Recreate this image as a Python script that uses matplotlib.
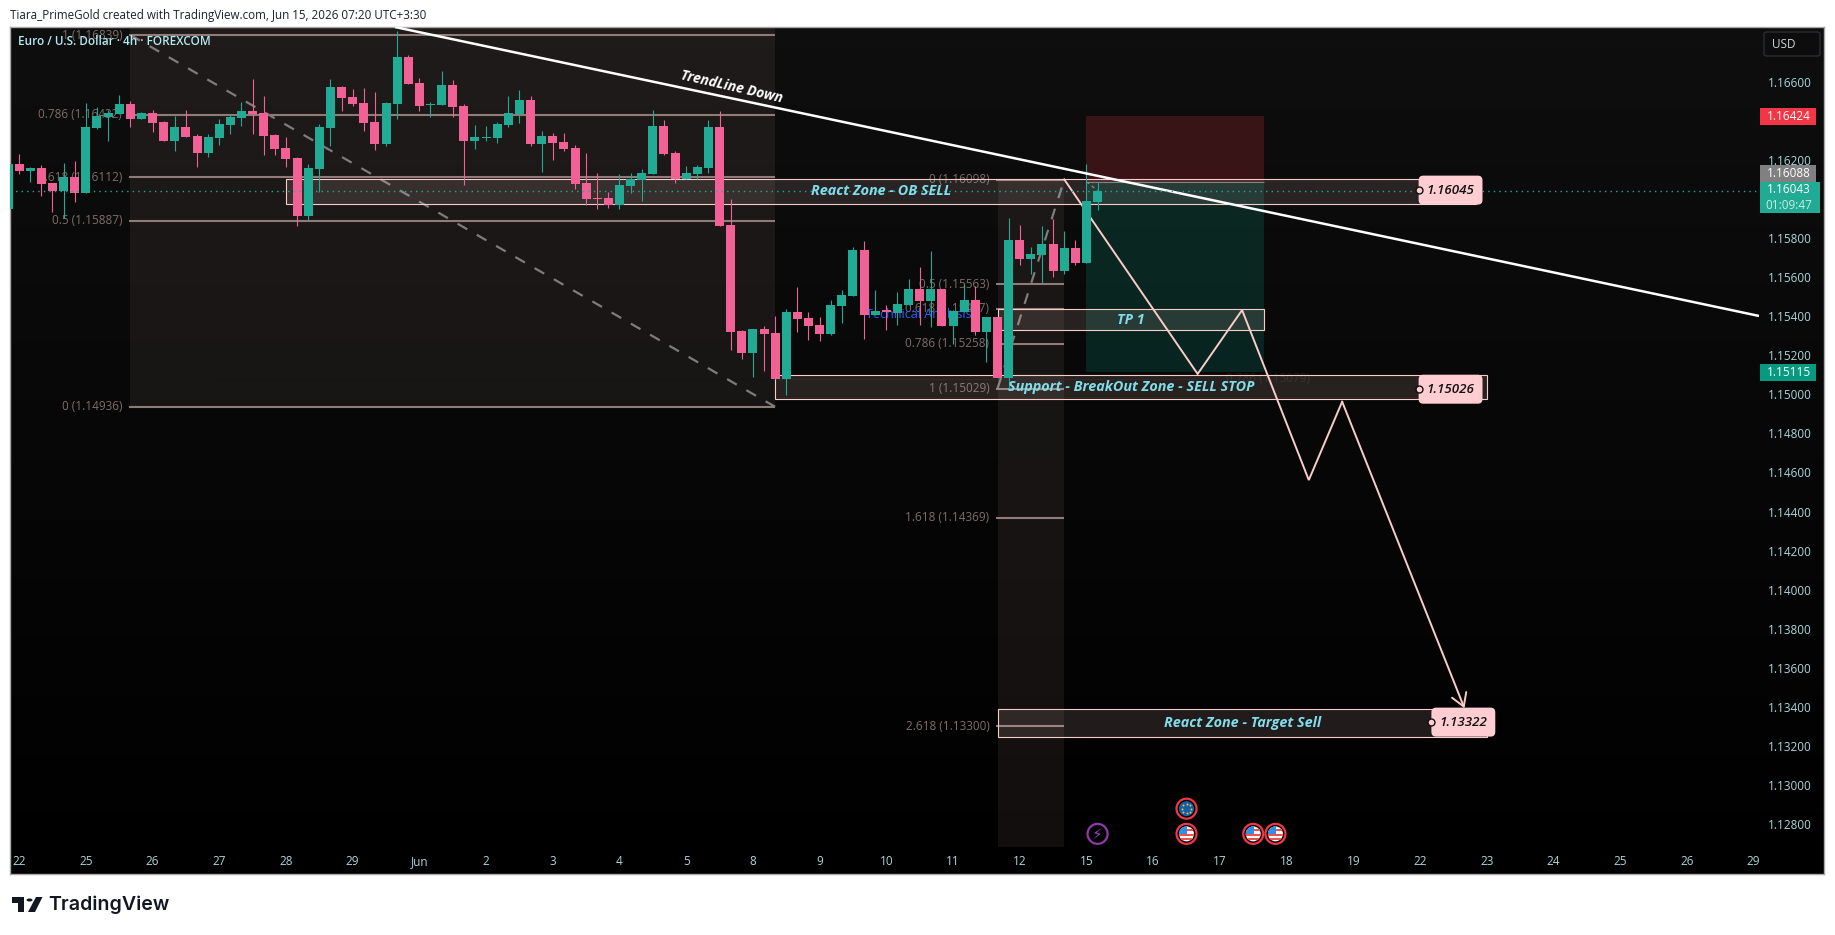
import numpy as np
import matplotlib
matplotlib.use("Agg")
import matplotlib.pyplot as plt
from matplotlib.patches import Rectangle, Circle, Polygon, FancyBboxPatch
from matplotlib.transforms import IdentityTransform

W, H = 1835, 935

# 4h candles, left to right
opens = [1.15950, 1.16179, 1.16143, 1.16158, 1.16081, 1.16040, 1.16112, 1.16030, 1.16363, 1.16419,
         1.16435, 1.16486, 1.16409, 1.16440, 1.16394, 1.16296, 1.16368, 1.16322, 1.16235, 1.16312,
         1.16378, 1.16414, 1.16450, 1.16440, 1.16327, 1.16261, 1.16209, 1.15913, 1.16154, 1.16363,
         1.16573, 1.16522, 1.16491, 1.16394, 1.16281, 1.16486, 1.16727, 1.16594, 1.16481, 1.16481,
         1.16583, 1.16476, 1.16297, 1.16312, 1.16312, 1.16379, 1.16435, 1.16507, 1.16281, 1.16322,
         1.16292, 1.16261, 1.16082, 1.16005, 1.16004, 1.15969, 1.16066, 1.16097, 1.16127, 1.16373,
         1.16235, 1.16102, 1.16127, 1.16158, 1.16368, 1.15866, 1.15324, 1.15211, 1.15334, 1.15313,
         1.15078, 1.15421, 1.15390, 1.15354, 1.15308, 1.15452, 1.15503, 1.15738, 1.15406, 1.15432,
         1.15416, 1.15457, 1.15539, 1.15478, 1.15539, 1.15350, 1.15423, 1.15483, 1.15319, 1.15396,
         1.15085, 1.15789, 1.15692, 1.15713, 1.15769, 1.15631, 1.15748, 1.15672, 1.15984]
highs = [1.16179, 1.16230, 1.16163, 1.16174, 1.16081, 1.16184, 1.16194, 1.16491, 1.16470, 1.16455,
         1.16532, 1.16501, 1.16445, 1.16455, 1.16399, 1.16424, 1.16455, 1.16332, 1.16332, 1.16409,
         1.16429, 1.16496, 1.16614, 1.16527, 1.16332, 1.16317, 1.16214, 1.16179, 1.16384, 1.16614,
         1.16578, 1.16563, 1.16568, 1.16548, 1.16496, 1.16860, 1.16737, 1.16619, 1.16496, 1.16655,
         1.16609, 1.16486, 1.16379, 1.16374, 1.16394, 1.16527, 1.16558, 1.16527, 1.16348, 1.16338,
         1.16338, 1.16276, 1.16235, 1.16133, 1.16035, 1.16127, 1.16132, 1.16153, 1.16455, 1.16404,
         1.16245, 1.16168, 1.16173, 1.16404, 1.16450, 1.15999, 1.15329, 1.15334, 1.15349, 1.15400,
         1.15436, 1.15549, 1.15421, 1.15395, 1.15482, 1.15533, 1.15754, 1.15784, 1.15534, 1.15457,
         1.15524, 1.15590, 1.15652, 1.15734, 1.15539, 1.15432, 1.15565, 1.15554, 1.15396, 1.15396,
         1.15902, 1.15866, 1.15754, 1.15861, 1.15897, 1.15835, 1.15789, 1.16178, 1.16086]
lows = [1.15950, 1.16127, 1.16087, 1.16015, 1.15933, 1.15902, 1.15984, 1.16030, 1.16358, 1.16296,
        1.16435, 1.16368, 1.16409, 1.16342, 1.16296, 1.16245, 1.16317, 1.16163, 1.16214, 1.16276,
        1.16332, 1.16373, 1.16332, 1.16225, 1.16225, 1.16163, 1.15861, 1.15892, 1.16036, 1.16271,
        1.16450, 1.16476, 1.16348, 1.16251, 1.16271, 1.16409, 1.16589, 1.16450, 1.16420, 1.16481,
        1.16420, 1.16072, 1.16256, 1.16297, 1.16287, 1.16368, 1.16389, 1.16271, 1.16138, 1.16200,
        1.16246, 1.16051, 1.15969, 1.15949, 1.15953, 1.15948, 1.16030, 1.15989, 1.16127, 1.16224,
        1.16081, 1.16102, 1.16102, 1.16132, 1.15861, 1.15226, 1.15180, 1.15088, 1.15119, 1.15078,
        1.14996, 1.15318, 1.15278, 1.15272, 1.15303, 1.15365, 1.15503, 1.15283, 1.15406, 1.15329,
        1.15355, 1.15457, 1.15355, 1.15344, 1.15350, 1.15257, 1.15423, 1.15304, 1.15165, 1.15083,
        1.15022, 1.15661, 1.15615, 1.15569, 1.15600, 1.15615, 1.15661, 1.15672, 1.15943]
closes = [1.16179, 1.16143, 1.16158, 1.16076, 1.16040, 1.16112, 1.16030, 1.16368, 1.16424, 1.16440,
          1.16486, 1.16409, 1.16438, 1.16389, 1.16296, 1.16368, 1.16317, 1.16235, 1.16317, 1.16383,
          1.16419, 1.16450, 1.16435, 1.16322, 1.16255, 1.16204, 1.15912, 1.16159, 1.16368, 1.16573,
          1.16517, 1.16486, 1.16389, 1.16281, 1.16491, 1.16727, 1.16589, 1.16476, 1.16486, 1.16583,
          1.16471, 1.16297, 1.16317, 1.16317, 1.16384, 1.16440, 1.16507, 1.16281, 1.16322, 1.16287,
          1.16256, 1.16077, 1.16000, 1.16000, 1.15969, 1.16071, 1.16102, 1.16132, 1.16373, 1.16230,
          1.16102, 1.16132, 1.16163, 1.16368, 1.15861, 1.15318, 1.15211, 1.15334, 1.15308, 1.15078,
          1.15421, 1.15385, 1.15349, 1.15308, 1.15457, 1.15508, 1.15738, 1.15406, 1.15426, 1.15423,
          1.15462, 1.15539, 1.15478, 1.15539, 1.15350, 1.15426, 1.15483, 1.15319, 1.15396, 1.15083,
          1.15789, 1.15692, 1.15718, 1.15769, 1.15631, 1.15748, 1.15672, 1.15989, 1.16043]

date_labels = ["22", "25", "26", "27", "28", "29", "Jun", "2", "3", "4", "5", "8", "9", "10", "11",
               "12", "15", "16", "17", "18", "19", "22", "23", "24", "25", "26", "29"]
date_bars = list(range(1, 158, 6))
price_ticks = [1.166, 1.162, 1.158, 1.156, 1.154, 1.152, 1.150, 1.148, 1.146, 1.144, 1.142, 1.140,
               1.138, 1.136, 1.134, 1.132, 1.130, 1.128]

# fib retracements
fib1_levels = ["1", "0.786", "0.618", "0.5", "0"]
fib1_prices = [1.16839, 1.16432, 1.16112, 1.15887, 1.14936]
fib1_bars = [11, 69]
fib2_levels = ["0", "0.5", "0.618", "0.786", "1", "1.618", "2.618"]
fib2_prices = [1.16098, 1.15563, 1.15437, 1.15258, 1.15029, 1.14369, 1.13300]
fib2_bars = [89, 95]

# zones
zone_names = ["React Zone - OB SELL", "TP 1", "Support - BreakOut Zone - SELL STOP", "React Zone - Target Sell"]
zone_start = [25.0, 89.0, 69.0, 89.0]
zone_end = [132.0, 113.0, 133.0, 133.0]
zone_top = [1.16104, 1.15438, 1.15097, 1.13388]
zone_bottom = [1.15972, 1.15327, 1.14974, 1.13247]

tag_prices = [1.16045, 1.15026, 1.13322]
tag_bars = [129.75, 129.75, 130.9]
handle_bars = [126.9, 126.9, 128.0]

# short position
pos_bars = [97, 113]
pos_stop, pos_entry, pos_target = 1.16424, 1.16088, 1.15115

# projected path
path_bars = [95, 107, 111, 117, 120, 131]
path_prices = [1.16100, 1.15104, 1.15431, 1.14561, 1.14962, 1.13393]

trend_bars = [34.8, 157.49]
trend_prices = [1.16880, 1.15401]

event_bars = [106, 106, 112, 114]
event_prices = [1.12879, 1.12750, 1.12750, 1.12750]
event_kinds = ["eu", "us", "us", "us"]
news_bar, news_price = 98, 1.12750

last_price = 1.16043

TEAL = "#22ab94"
PINK = "#f26196"
ZONE = "#f8cdc9"
FIB = "#a1887f"
FIBLINE = "#917b78"
FIBTXT = "#7d6e6b"
CYAN = "#80deea"
AXTXT = "#a8d8dc"
FONT = "Open Sans"
plt.rcParams["font.family"] = [FONT, "DejaVu Sans"]


def fx(px):
    return px / W


def fy(py):
    return 1 - py / H


fig = plt.figure(figsize=(W / 100, H / 100), dpi=100, facecolor="white")

# black panel with a soft gradient
bg = fig.add_axes([fx(10), fy(874), fx(1824 - 10), (874 - 27) / H])
bg.imshow(np.linspace(0.056, 0.0, 256).reshape(-1, 1), cmap="gray", vmin=0, vmax=1, aspect="auto")
bg.set_xticks([])
bg.set_yticks([])
for s in bg.spines.values():
    s.set_color("#a8a8a8")
    s.set_linewidth(1.0)

ax = fig.add_axes([fx(10), fy(847), fx(1759 - 10), (847 - 27) / H])
ax.patch.set_alpha(0)
bar_w = 11.118
ax.set_xlim((10 - 8) / bar_w, (1759 - 8) / bar_w)
ax.set_ylim(1.16600 - (847 - 81.7) / 19537, 1.16600 + (81.7 - 27) / 19537)
for s in ax.spines.values():
    s.set_visible(False)

ax.set_xticks(date_bars, date_labels)
ax.yaxis.tick_right()
ax.set_yticks(price_ticks, [f"{p:.5f}" for p in price_ticks])
ax.tick_params(axis="x", length=0, pad=5.5, labelsize=8.5, labelcolor=AXTXT)
ax.tick_params(axis="y", length=0, pad=6.5, labelsize=8.5, labelcolor=AXTXT)

# fib 1
ax.add_patch(Rectangle((fib1_bars[0], fib1_prices[-1]), fib1_bars[1] - fib1_bars[0],
                       ax.get_ylim()[1] - fib1_prices[-1], fc=FIB, alpha=0.11, lw=0, zorder=1))
ax.hlines(fib1_prices, fib1_bars[0] - 0.12, fib1_bars[1], color=FIBLINE, lw=1.5, zorder=1.2)
for lv, p in zip(fib1_levels, fib1_prices):
    ax.text(fib1_bars[0] - 0.72, p, f"{lv} ({p:.5f})", ha="right", va="center", color=FIBTXT,
            fontsize=8.5, zorder=1.3)
ax.plot([fib1_bars[0], fib1_bars[1]], [fib1_prices[0], fib1_prices[-1]], color="#7d7d7d", lw=1.6,
        dashes=(5, 5), zorder=1.4)

# fib 2
ax.add_patch(Rectangle((fib2_bars[0], ax.get_ylim()[0]), fib2_bars[1] - fib2_bars[0],
                       fib2_prices[0] - ax.get_ylim()[0], fc=FIB, alpha=0.11, lw=0, zorder=1))
ax.hlines(fib2_prices, fib2_bars[0] - 0.12, fib2_bars[1], color=FIBLINE, lw=1.5, zorder=1.2)
for lv, p in zip(fib2_levels, fib2_prices):
    ax.text(fib2_bars[0] - 0.72, p, f"{lv} ({p:.5f})", ha="right", va="center", color=FIBTXT,
            fontsize=8.5, zorder=1.3)
ax.plot([fib2_bars[0], fib2_bars[1]], [fib2_prices[4], fib2_prices[0]], color="#7d7d7d", lw=1.6,
        dashes=(5, 5), zorder=1.4)

# very faint third fib, mostly invisible on the dark panel
ax.hlines(1.15079, 18.8, 107, color="#141212", lw=0.7, zorder=1.1)
ax.text(113.3, 1.15079, "0.786 (1.15079)", ha="center", va="center", color="#1e1c1b", fontsize=8.5, zorder=1.1)

ax.text(81.9, 1.15406, "Technical Analysis", ha="center", va="center", color="#2962ff", fontsize=9, zorder=1.5)

# short position tool
ax.add_patch(Rectangle((pos_bars[0], pos_entry), pos_bars[1] - pos_bars[0], pos_stop - pos_entry,
                       fc="#f23645", alpha=0.2, lw=0, zorder=1.6))
ax.add_patch(Rectangle((pos_bars[0], pos_target), pos_bars[1] - pos_bars[0], pos_entry - pos_target,
                       fc="#089981", alpha=0.2, lw=0, zorder=1.6))
ax.hlines(pos_entry, pos_bars[0], pos_bars[1], color="#6f7a78", lw=0.8, zorder=1.7)
ax.plot([pos_bars[0], 98], [pos_entry, last_price], color="#8a8a8a", lw=0.8, ls=(0, (3, 3)), zorder=1.7)

# zones
for i, name in enumerate(zone_names):
    ax.add_patch(Rectangle((zone_start[i], zone_bottom[i]), zone_end[i] - zone_start[i],
                           zone_top[i] - zone_bottom[i], fc=ZONE, alpha=0.13, lw=0, zorder=1.8))
    ax.add_patch(Rectangle((zone_start[i], zone_bottom[i]), zone_end[i] - zone_start[i],
                           zone_top[i] - zone_bottom[i], fc="none", ec=ZONE, lw=0.8, zorder=1.85))
    ax.text((zone_start[i] + zone_end[i]) / 2, (zone_top[i] + zone_bottom[i]) / 2, name, ha="center",
            va="center", color=CYAN, fontsize=10.4, fontstyle="italic", fontweight="bold", zorder=6)

# projected path
ax.plot(path_bars[:-1], path_prices[:-1], color=ZONE, lw=1.4, solid_joinstyle="miter", zorder=1.9)
ax.annotate("", xy=(path_bars[-1], path_prices[-1]), xytext=(path_bars[-2], path_prices[-2]),
            arrowprops=dict(arrowstyle="->,head_length=0.9,head_width=0.55", color=ZONE, lw=1.4,
                            shrinkA=0, shrinkB=0), zorder=1.9)

# candles
for i, (o, h, l, c) in enumerate(zip(opens, highs, lows, closes)):
    col = TEAL if c >= o else PINK
    ax.vlines(i, l, h, color=col, lw=0.8, zorder=3)
    ax.bar(i, abs(c - o), bottom=min(o, c), width=0.81, color=col, lw=0, zorder=3.1)

# trend line
ax.plot(trend_bars, trend_prices, color="white", lw=1.8, solid_capstyle="butt", zorder=4)
ax.text(65.1, 1.16575, "TrendLine Down", rotation=-13, rotation_mode="anchor", ha="center", va="center",
        color="white", fontsize=10, fontstyle="italic", fontweight="bold", zorder=6)

# last price line
ax.axhline(last_price, color=TEAL, lw=1.0, ls=(0, (1, 3)), zorder=4.5)

# price tags on zones
for b, p, hb in zip(tag_bars, tag_prices, handle_bars):
    ax.text(b, p, f"{p:.5f}", ha="center", va="center", color="#111111", fontsize=9.6, fontstyle="italic",
            fontweight="semibold", zorder=7,
            bbox=dict(boxstyle="round,pad=0.6,rounding_size=0.35", fc="#ffcdd2", ec="none"))
    ax.plot([hb], [p], marker="o", ms=5, mfc="#ffcdd2", mec="#111111", mew=1, zorder=8)


# price scale badges
def badge(py0, py1, x1, col, lines):
    tr = ax.get_yaxis_transform()
    x0a = (1760 - 10) / (1759 - 10)
    x1a = (x1 - 10) / (1759 - 10)
    y0 = 1.166 - (py0 - 81.7) / 19537
    y1 = 1.166 - (py1 - 81.7) / 19537
    ax.add_patch(Rectangle((x0a, y1), x1a - x0a, y0 - y1, transform=tr, fc=col, lw=0, clip_on=False, zorder=9))
    n = len(lines)
    for k, (txt, tc) in enumerate(lines):
        yy = y0 + (y1 - y0) * (k + 0.5) / n
        ax.text((1789 - 10) / (1759 - 10), yy, txt, transform=tr, ha="center", va="center", color=tc,
                fontsize=8.5, clip_on=False, zorder=10)


badge(108, 125, 1816, "#f23645", [("1.16424", "white")])
badge(165, 182, 1816, "#808080", [("1.16088", "white")])
badge(182, 213, 1820, TEAL, [("1.16043", "white"), ("01:09:47", "#c8eee6")])
badge(364, 381, 1816, "#089981", [("1.15115", "white")])

fig.canvas.draw()

# calendar icons, sized in pixels
idt = IdentityTransform()


def icon(bar, price, kind):
    cx, cy = ax.transData.transform((bar, price))
    ax.add_patch(Circle((cx, cy), 10, transform=idt, fc="black", ec="#f23645", lw=1.6, zorder=5, clip_on=False))
    disc = Circle((cx, cy), 7.5, transform=idt, fc="#f7f7f7", lw=0, zorder=5.1)
    ax.add_patch(disc)
    if kind == "eu":
        disc.set_facecolor("#155fa8")
        for a in np.deg2rad(np.arange(0, 360, 45)):
            ax.plot([cx + 4.6 * np.cos(a)], [cy + 4.6 * np.sin(a)], marker="o", ms=1.4, color="#f2c230",
                    mew=0, transform=idt, zorder=5.2)
    else:
        for k in [-6.5, -2.0, 2.5]:
            r = Rectangle((cx - 8, cy + k), 16, 2.2, transform=idt, fc="#ef5350", lw=0, zorder=5.2)
            ax.add_patch(r)
            r.set_clip_path(disc)
        r = Rectangle((cx - 8, cy - 0.5), 8.5, 8.5, transform=idt, fc="#2f8fe8", lw=0, zorder=5.3)
        ax.add_patch(r)
        r.set_clip_path(disc)


for b, p, k in zip(event_bars, event_prices, event_kinds):
    icon(b, p, k)
cx, cy = ax.transData.transform((news_bar, news_price))
ax.add_patch(Circle((cx, cy), 10, transform=idt, fc="black", ec="#8e3aa8", lw=1.6, zorder=5))
ax.text(news_bar, news_price, "\u26a1", ha="center", va="center", color="#9c3fc0", fontsize=11,
        family="DejaVu Sans", zorder=5.2)

# captions
fig.text(fx(10), fy(15), "Tiara_PrimeGold created with TradingView.com, Jun 15, 2026 07:20 UTC+3:30",
         ha="left", va="center", color="#1c2030", fontsize=8.4)
fig.text(fx(18), fy(41.7), "Euro / U.S. Dollar \u00b7 4h \u00b7 FOREXCOM", ha="left", va="center",
         color="#b2ebf2", fontsize=8.45, fontweight="semibold", zorder=20)

# currency button
fig.add_artist(FancyBboxPatch((fx(1764), fy(56)), fx(56), 24 / H, boxstyle="round,pad=0,rounding_size=0.002",
                              transform=fig.transFigure, fc="#0d0d0d", ec="#2a2e33", lw=1.0))
fig.text(fx(1772), fy(44.5), "USD", ha="left", va="center", color="#d1d4dc", fontsize=8.5)

# logo
logo = "#131722"
for pts in ([(12, 897), (24, 897), (24, 912), (18, 912), (18, 903), (12, 903)],
            [(36, 897), (42.5, 897), (35, 912), (28, 912)]):
    fig.add_artist(Polygon([(fx(a), fy(b)) for a, b in pts], closed=True, transform=fig.transFigure, fc=logo, lw=0))
fig.add_artist(Circle((fx(29.5), fy(900)), 3 / W, transform=fig.transFigure, fc=logo, lw=0))
fig.text(fx(48), fy(905), "TradingView", ha="left", va="center", color=logo, fontsize=14.1, fontweight="semibold",
         family="Inter")

fig.savefig("out.png", dpi=100, facecolor="white")
